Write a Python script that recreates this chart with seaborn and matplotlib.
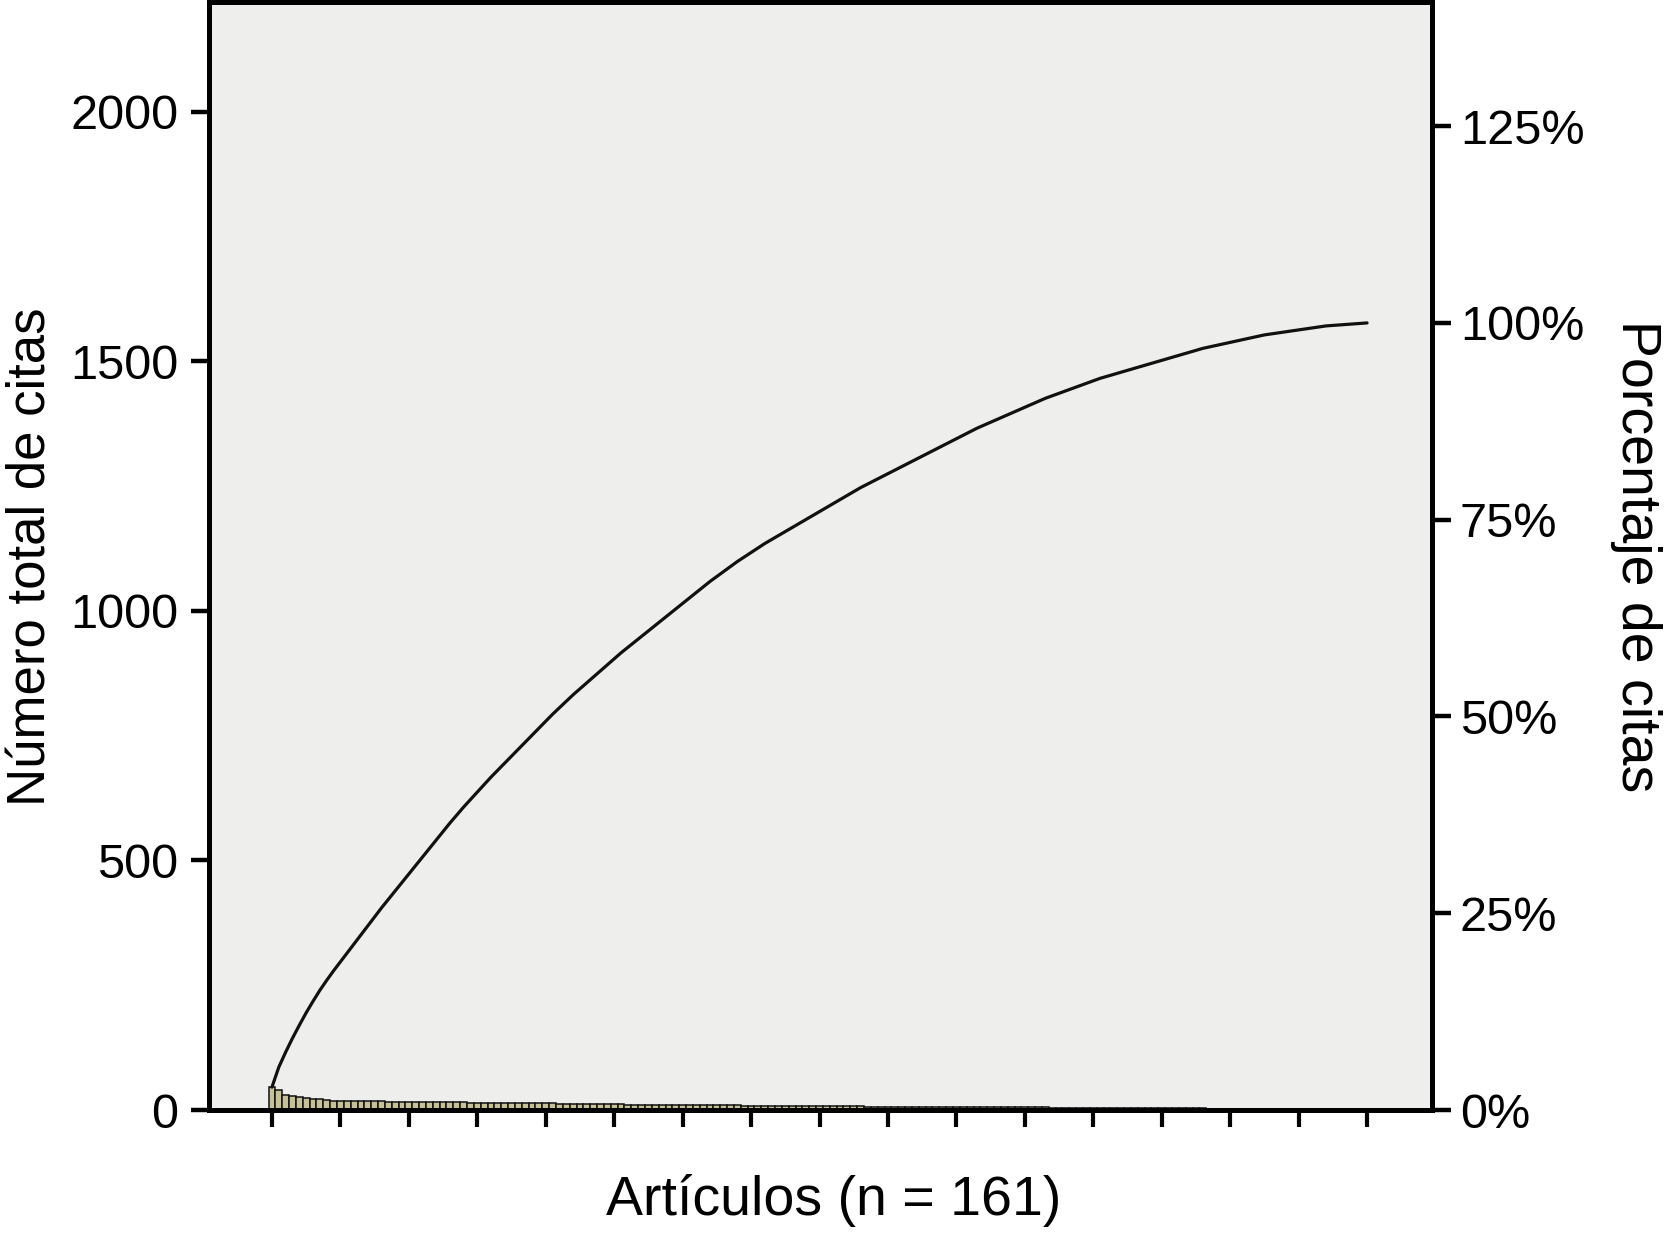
import numpy as np
import pandas as pd
import matplotlib
matplotlib.use('Agg')
import matplotlib.pyplot as plt
import seaborn as sns

citas = [46, 40,
         30, 28, 26, 25, 23, 22,
         20, 19, 18, 18, 18, 18,
         18, 18, 18, 17, 17, 17, 17,
         17, 17, 17, 17, 17, 17, 16,
         16, 15, 15, 15, 15, 14, 14, 14,
         14, 14, 14, 14, 14, 14, 13,
         13, 13, 12, 12, 12, 12, 12, 12, 12, 11, 11, 11,
         11, 11, 11, 11, 11, 11, 11, 11, 11, 11, 10, 10, 10, 10,
         9, 9, 9, 9, 8, 8, 8, 8, 8, 8, 8, 8, 8, 8, 8, 8, 8, 8, 7, 7, 7, 7, 7, 7,
         7, 7, 7, 7, 7, 7, 7, 7, 7, 7, 7,
         6, 6, 6, 6, 6, 6, 6, 6, 6, 6,
         5, 5, 5, 5, 5, 5, 5, 5, 4, 4, 4, 4,
         4, 4, 4, 4, 4, 4, 4, 4, 4, 4, 4,
         3, 3, 3, 3, 3, 3, 3, 3, 3, 2, 2,
         2, 2, 2, 2, 2, 2, 2, 1, 1, 1, 1, 1, 1]
left_ticks = [0, 500, 1000, 1500, 2000]
right_ticks = [0, 25, 50, 75, 100, 125]

df = pd.DataFrame({'articulo': np.arange(len(citas)), 'citas': citas})
total = df['citas'].sum()
df['porcentaje'] = df['citas'].cumsum() / total * 100

sns.set_style('white')
plt.rcParams['font.family'] = ['Liberation Sans', 'DejaVu Sans']
plt.rcParams['text.color'] = 'black'
plt.rcParams['axes.labelcolor'] = 'black'

fig = plt.figure(figsize=(16.72, 12.45), dpi=100)
ax = fig.add_axes([0.125, 0.1084, 0.7315, 0.8896])
ax.set_facecolor('#eeeeec')

sns.barplot(data=df, x='articulo', y='citas', color='#c6c097', edgecolor='#111111',
            linewidth=1.1, width=1.0, saturation=1, ax=ax)

ymax = 2219
ax.set_ylim(0, ymax)
ax.set_xlim(-9.2, 169.5)
ax.set_xticks(np.arange(0, len(citas), 10))
ax.set_xticklabels([])
ax.set_yticks(left_ticks)
ax.set_yticklabels([str(t) for t in left_ticks])

ax2 = ax.twinx()
sns.lineplot(data=df, x='articulo', y='porcentaje', color='#111111', linewidth=2.3, ax=ax2)
ax2.set_ylim(0, ymax / total * 100)
ax2.set_xlim(-9.2, 169.5)
ax2.set_yticks(right_ticks)
ax2.set_yticklabels([f'{t}%' for t in right_ticks])

for a in (ax, ax2):
    for s in a.spines.values():
        s.set_linewidth(3.6)
        s.set_color('black')
    a.tick_params(axis='both', colors='black', labelcolor='black', labelsize=35,
                  width=3.2, length=13, direction='out')
ax.tick_params(axis='y', left=True, pad=9)
ax.tick_params(axis='x', bottom=True, length=12, width=3)
ax2.tick_params(axis='y', right=True, pad=6, length=14)

ax.set_xlabel('Artículos (n = 161)', fontsize=40, color='black')
ax.xaxis.set_label_coords(0.511, -0.058)
ax.set_ylabel('Número total de citas', fontsize=38, labelpad=10, color='black')
ax2.set_ylabel('Porcentaje de citas', fontsize=40, rotation=270, labelpad=56, color='black')

fig.savefig('out.png', dpi=100, facecolor='white')
